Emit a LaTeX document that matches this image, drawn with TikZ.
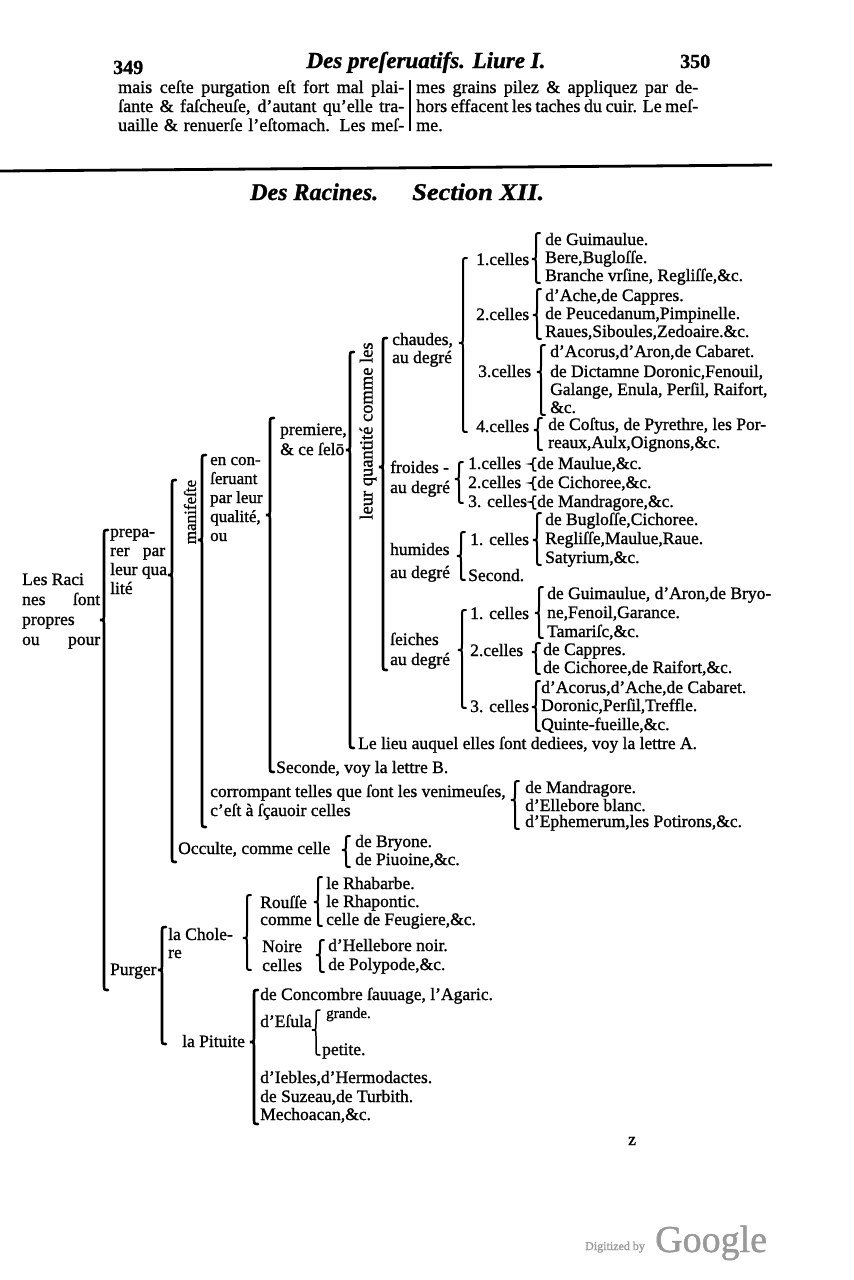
\documentclass[tikz,border=0pt]{standalone}
\usepackage{fontspec}
\setmainfont{Liberation Serif}[FakeBold=1.2]
\newcounter{tn}
\newcommand\tx[3][]{\stepcounter{tn}\node[lbl,#1] (t\arabic{tn}) at (#2) {#3};}
% brace: [line width] x top tip bottom
\newcommand\brc[5][2]{%
 \pgfmathsetmacro\hA{min(6,(#4-#3)/2)}%
 \pgfmathsetmacro\hB{min(6,(#5-#4)/2)}%
 \pgfmathsetmacro\wA{min(4,\hA)}%
 \draw[line width=#1pt,line cap=round] (#2+\wA,#3) .. controls (#2,#3) .. (#2,#3+\hA) -- (#2,#4-\hA)
   .. controls (#2,#4) .. (#2-\wA,#4) .. controls (#2,#4) .. (#2,#4+\hB) -- (#2,#5-\hB)
   .. controls (#2,#5) .. (#2+\wA,#5);}
\begin{document}
\begin{tikzpicture}[x=1pt,y=-1pt,
  lbl/.style={anchor=base west,inner sep=0pt,font={\fontsize{17.5}{19}\selectfont}},
  hdr/.style={anchor=base west,inner sep=0pt,font={\fontsize{18}{19}\selectfont}},
  ttl/.style={anchor=base,inner sep=0pt,font={\fontsize{23}{25}\selectfont\bfseries\itshape}},
  sect/.style={anchor=base west,inner sep=0pt,font={\fontsize{24}{26}\selectfont\bfseries\itshape}}]
\fill[white] (0,0) rectangle (854,1280);
\useasboundingbox (0,0) rectangle (854,1280);

% ---------- header ----------
\tx[font={\fontsize{20}{22}\selectfont\bfseries}]{113,74}{349}
\node[ttl] (head) at (426,68) {Des preſeruatifs. Liure I.};
\tx[font={\fontsize{20}{22}\selectfont\bfseries}]{680,68}{350}
\tx[hdr]{118,93}{\makebox[286pt][s]{mais ceſte purgation eſt fort mal plai-}}
\tx[hdr]{118,112}{\makebox[286pt][s]{ſante \& faſcheuſe, d’autant qu’elle tra-}}
\tx[hdr]{118,131}{\makebox[286pt][s]{uaille \& renuerſe l’eſtomach. Les meſ-}}
\tx[hdr]{416,93}{\makebox[282pt][s]{mes grains pilez \& appliquez par de-}}
\tx[hdr]{416,112}{\makebox[282pt][s]{hors effacent les taches du cuir. Le meſ-}}
\tx[hdr]{416,131}{me.}
\coordinate (barT) at (410,80); \coordinate (barB) at (410,131);
\draw[line width=1.8pt] (barT) -- (barB);
\coordinate (ruleL) at (0,171); \coordinate (ruleR) at (772,165);
\draw[line width=2.8pt] (ruleL) -- (ruleR);
\node[sect] (sec1) at (250,200) {Des Racines.};
\node[sect] (sec2) at (412,200) {\scalebox{1.1}[1]{Section XII.}};

% ---------- level 0 ----------
\tx{22,585}{Les Raci}
\tx{22,605}{\makebox[78pt][s]{nes ſont}}
\tx{22,625}{propres}
\tx{22,645}{\makebox[78pt][s]{ou pour}}
\brc[2.6]{104}{530}{620}{990}

% ---------- preparer ----------
\tx{110,537}{prepa-}
\tx{110,556}{\makebox[55pt][s]{rer par}}
\tx{110,575}{leur qua}
\tx{110,594}{lité}
\brc[2.6]{172}{480}{575}{862}

\node[rotate=90,inner sep=0pt,font={\fontsize{17}{18}\selectfont}] (manif) at (190,512) {manifeſte};
\brc[2.6]{202}{455}{540}{827}

\tx[font={\fontsize{17}{18}\selectfont}]{210,465}{en con-}
\tx[font={\fontsize{17}{18}\selectfont}]{210,484}{ſeruant}
\tx[font={\fontsize{17}{18}\selectfont}]{210,503}{par leur}
\tx[font={\fontsize{17}{18}\selectfont}]{210,522}{qualité,}
\tx[font={\fontsize{17}{18}\selectfont}]{210,541}{ou}
\brc[2.6]{270}{418}{515}{772}

\tx{280,435}{premiere,}
\tx{280,455}{\& ce ſelō}
\brc[2.6]{350}{352}{450}{748}

\node[rotate=90,inner sep=0pt,font={\fontsize{18.5}{20}\selectfont}] (quant) at (368,431) {leur quantité comme les};
\brc[2.6]{383}{338}{467}{670}

% chaudes
\tx{392,345}{chaudes,}
\tx{392,363}{au degré}
\brc{463}{258}{343}{432}
\tx{476,265}{1.celles}
\brc{536}{233}{259}{283}
\tx{545,245}{de Guimaulue.}
\tx{545,263}{Bere,Bugloſſe.}
\tx{545,281}{Branche vrſine, Regliſſe,\&c.}
\tx{476,320}{2.celles}
\brc{537}{289}{315}{339}
\tx{545,301}{d’Ache,de Cappres.}
\tx{545,319}{de Peucedanum,Pimpinelle.}
\tx{545,337}{Raues,Siboules,Zedoaire.\&c.}
\tx{478,377}{3.celles}
\brc{541}{345}{372}{415}
\tx{550,357}{d’Acorus,d’Aron,de Cabaret.}
\tx{550,377}{de Dictamne Doronic,Fenouil,}
\tx{550,395}{Galange, Enula, Perſil, Raifort,}
\tx{550,413}{\&c.}
\tx{476,432}{4.celles}
\brc{538}{418}{430}{450}
\tx{548,430}{de Coſtus, de Pyrethre, les Por-}
\tx{548,448}{reaux,Aulx,Oignons,\&c.}

% froides
\tx{390,473}{froides -}
\tx{390,493}{au degré}
\brc{459}{462}{479}{503}
\tx{468,469}{1.celles}
\tx{468,488}{2.celles}
\tx{468,507}{3. celles}
\brc[1.5]{533}{458}{464}{471}
\brc[1.5]{533}{477}{483}{490}
\brc[1.5]{533}{496}{502}{509}
\tx{537,469}{de Maulue,\&c.}
\tx{537,488}{de Cichoree,\&c.}
\tx{537,507}{de Mandragore,\&c.}

% humides
\tx{390,555}{humides}
\tx{390,578}{au degré}
\brc{461}{532}{556}{580}
\tx{470,545}{1. celles}
\brc{537}{513}{540}{565}
\tx{545,525}{de Bugloſſe,Cichoree.}
\tx{545,544}{Regliſſe,Maulue,Raue.}
\tx{545,563}{Satyrium,\&c.}
\tx{468,581}{Second.}

% seiches
\tx{390,645}{ſeiches}
\tx{390,665}{au degré}
\brc{462}{610}{650}{708}
\tx{470,619}{1. celles}
\brc{539}{587}{613}{638}
\tx{547,599}{de Guimaulue, d’Aron,de Bryo-}
\tx{547,618}{ne,Fenoil,Garance.}
\tx{547,637}{Tamariſc,\&c.}
\tx{470,656}{2.celles}
\brc{536}{643}{652}{674}
\tx{543,655}{de Cappres.}
\tx{543,673}{de Cichoree,de Raifort,\&c.}
\tx{470,712}{3. celles}
\brc{536}{681}{707}{731}
\tx{541,693}{d’Acorus,d’Ache,de Cabaret.}
\tx{541,711}{Doronic,Perſil,Treffle.}
\tx{541,730}{Quinte-fueille,\&c.}

\tx{358,749}{Le lieu auquel elles ſont dediees, voy la lettre A.}
\tx{276,773}{Seconde, voy la lettre B.}

\tx{210,797}{corrompant telles que ſont les venimeuſes,}
\tx{210,816}{c’eſt à ſçauoir celles}
\brc{515}{781}{800}{829}
\tx{525,793}{de Mandragore.}
\tx{525,811}{d’Ellebore blanc.}
\tx{525,827}{d’Ephemerum,les Potirons,\&c.}

\tx{178,854}{Occulte, comme celle}
\brc{346}{836}{850}{867}
\tx{355,847}{de Bryone.}
\tx{355,865}{de Piuoine,\&c.}

% ---------- purger ----------
\tx{110,975}{Purger}
\brc[2.6]{162}{927}{970}{1044}
\tx{168,940}{la Chole-}
\tx{168,958}{re}
\brc{247}{895}{938}{970}
\tx{260,908}{Rouſſe}
\tx{260,925}{comme}
\brc{318}{877}{902}{926}
\tx{326,889}{le Rhabarbe.}
\tx{326,907}{le Rhapontic.}
\tx{326,925}{celle de Feugiere,\&c.}
\tx{262,952}{Noire}
\tx{262,971}{celles}
\brc{320}{940}{955}{972}
\tx{328,951}{d’Hellebore noir.}
\tx{328,970}{de Polypode,\&c.}

\tx{182,1047}{la Pituite}
\brc[2.6]{254}{990}{1042}{1124}
\tx{260,1000}{de Concombre ſauuage, l’Agaric.}
\tx{260,1027}{d’Eſula}
\brc[1.5]{316}{1010}{1030}{1055}
\tx[font={\fontsize{15}{16}\selectfont}]{326,1018}{grande.}
\tx{322,1055}{petite.}
\tx{260,1083}{d’Iebles,d’Hermodactes.}
\tx{260,1102}{de Suzeau,de Turbith.}
\tx{260,1120}{Mechoacan,\&c.}

\tx{628,1145}{z}

% ---------- footer ----------
\tx[font={\fontsize{12}{14}\selectfont},text=black!40]{585,1250}{Digitized by}
\tx[font={\fontsize{38}{40}\selectfont},text=black!40]{655,1252}{Google}
\end{tikzpicture}
\end{document}
